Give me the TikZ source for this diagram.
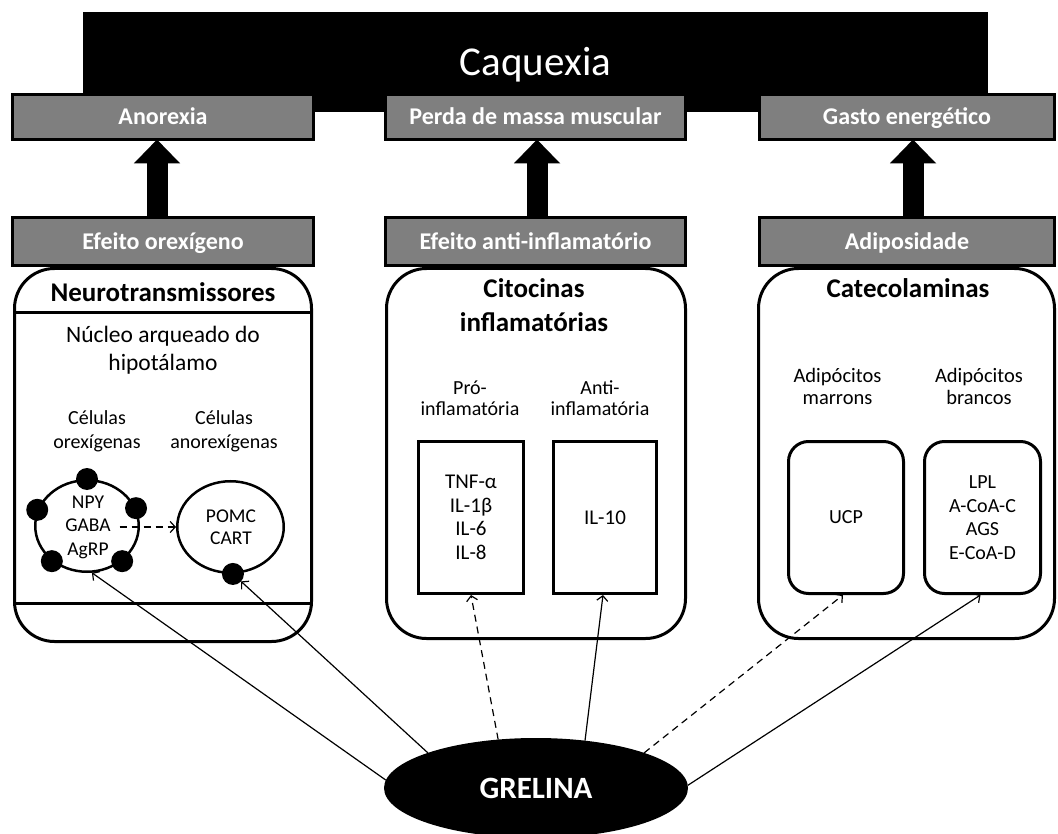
\documentclass[tikz,border=0pt]{standalone}
\usepackage{fontspec}
\setmainfont{Carlito}
\usetikzlibrary{shapes.geometric,arrows.meta}
\definecolor{boxgray}{HTML}{7F7F7F}
\begin{document}
\begin{tikzpicture}[x=1pt,y=-1pt,
  every node/.style={inner sep=0pt, outer sep=0pt},
  blackbox/.style={fill=black, minimum width=905pt, minimum height=100pt, text=white,
    font=\fontsize{41}{48}\selectfont, text height=26.4pt, text depth=0pt},
  graybox/.style={draw=black, line width=3pt, fill=boxgray, text=white,
    font=\fontsize{24}{28}\selectfont\bfseries, text height=15.4pt, text depth=0pt},
  container/.style={draw=black, line width=3pt, rounded corners=40pt, fill=white},
  title/.style={font=\fontsize{27}{34}\selectfont\bfseries, align=center},
  cell/.style={draw=black, line width=2.5pt, ellipse, fill=white, outer sep=1.25pt},
  dot/.style={circle, fill=black, minimum size=22pt},
  inbox/.style={draw=black, line width=3pt, fill=white, outer sep=1.5pt, align=center},
  link/.style={line width=1.2pt, -{Straight Barb[length=5pt,width=11pt]}},
  dlink/.style={link, dash pattern=on 7pt off 5pt},
  block/.style={line width=21pt, -{Triangle[length=24pt,width=45pt]}}
]
\useasboundingbox (0,0) rectangle (1058,834);

% top
\node[blackbox] (cq) at (535.5,62) {Caquexia};

% containers
\node[container, minimum width=297pt, minimum height=373pt] (neuro) at (163,455) {};
\node[container, minimum width=299pt, minimum height=370pt] (cito) at (536,453.5) {};
\node[container, minimum width=296pt, minimum height=370pt] (cate) at (906.5,453.5) {};
\draw[line width=3pt] (neuro.west |- 0,313) -- (neuro.east |- 0,313);
\draw[line width=3pt] (neuro.west |- 0,603) -- (neuro.east |- 0,603);

% gray boxes
\node[graybox, minimum width=301pt, minimum height=45pt] (ano) at (163,117) {Anorexia};
\node[graybox, minimum width=300pt, minimum height=45pt] (perda) at (535.5,117) {Perda de massa muscular};
\node[graybox, minimum width=295pt, minimum height=45pt] (gasto) at (907,117) {Gasto energético};
\node[graybox, minimum width=301pt, minimum height=48pt] (efo) at (163,241.5) {Efeito orexígeno};
\node[graybox, minimum width=300pt, minimum height=48pt] (efa) at (535.5,241.5) {Efeito anti-inflamatório};
\node[graybox, minimum width=295pt, minimum height=48pt] (adip) at (907,241.5) {Adiposidade};

% block arrows
\draw[block] ([xshift=-6pt]efo.north) -- ([xshift=-6pt]ano.south);
\draw[block] ([xshift=1.5pt]efa.north) -- ([xshift=1.5pt]perda.south);
\draw[block] ([xshift=6pt]adip.north) -- ([xshift=6pt]gasto.south);

% neurotransmissores
\node[title] (neurot) at (163,292) {Neurotransmissores};
\node[font=\fontsize{23.5}{28}\selectfont, align=center] (nucleo) at (163,350) {Núcleo arqueado do\\hipotálamo};
\node[font=\fontsize{20}{24}\selectfont, align=center] (celo) at (97,431) {Células\\orexígenas};
\node[font=\fontsize{20}{24}\selectfont, align=center] (cela) at (224,431) {Células\\anorexígenas};
\node[cell, minimum width=103.5pt, minimum height=91.5pt] (orex) at (87,526) {};
\node[cell, minimum width=106.5pt, minimum height=91.5pt] (anorex) at (230.5,527) {};
\node[font=\fontsize{19.5}{23.5}\selectfont, align=center] (orext) at (88,527) {NPY\\GABA\\AgRP};
\node[font=\fontsize{19.5}{22}\selectfont, align=center] (anorext) at (231,527.5) {POMC\\CART};
\node[dot] (d1) at (orex.90) {};
\node[dot] (d2) at (orex.162) {};
\node[dot] (d3) at (orex.20) {};
\node[dot] (d4) at (orex.225) {};
\node[dot] (d5) at (orex.315) {};
\node[dot] (d6) at (anorex.-87) {};
\draw[dlink] ([xshift=9pt]orext.east) -- (anorex.west);

% citocinas
\node[title] (citot) at (534,305) {Citocinas\\inflamatórias};
\node[font=\fontsize{20}{21}\selectfont, align=center] (prot) at (470,398) {Pró-\\inflamatória};
\node[font=\fontsize{20}{21}\selectfont, align=center] (antit) at (600,398) {Anti-\\inflamatória};
\node[inbox, minimum width=105pt, minimum height=152pt, font=\fontsize{21}{23.5}\selectfont] (pro) at (471,517.5) {TNF-α\\IL-1β\\IL-6\\IL-8};
\node[inbox, minimum width=103pt, minimum height=152pt, font=\fontsize{21}{23.5}\selectfont] (anti) at (605,517.5) {IL-10};

% catecolaminas
\node[title] (catet) at (908,288) {Catecolaminas};
\node[font=\fontsize{20.5}{22}\selectfont, align=center] (adm) at (837.5,386) {Adipócitos\\marrons};
\node[font=\fontsize{20.5}{22}\selectfont, align=center] (adb) at (979,386) {Adipócitos\\brancos};
\node[inbox, rounded corners=20pt, minimum width=115pt, minimum height=152pt, font=\fontsize{20}{23.5}\selectfont] (ucp) at (846,517.5) {UCP};
\node[inbox, rounded corners=20pt, minimum width=116pt, minimum height=152pt, font=\fontsize{20}{23.5}\selectfont] (wht) at (982.5,517.5) {LPL\\A-CoA-C\\AGS\\E-CoA-D};

% grelina
\node[ellipse, fill=black, minimum width=304pt, minimum height=100pt, text=white,
  font=\fontsize{31}{36}\selectfont\bfseries, text height=20pt, text depth=0pt] (grel) at (536,788) {GRELINA};

\draw[link] (grel.177) -- (orex.-84);
\draw[link] (grel.162) -- (d6);
\draw[dlink] (grel.128) -- (pro.south);
\draw[link] (grel.44) -- ([xshift=-2pt]anti.south);
\draw[dlink] (grel.18) -- ([xshift=-3pt]ucp.south);
\draw[link] (grel.1) -- ([xshift=-2pt]wht.south);
\end{tikzpicture}
\end{document}
